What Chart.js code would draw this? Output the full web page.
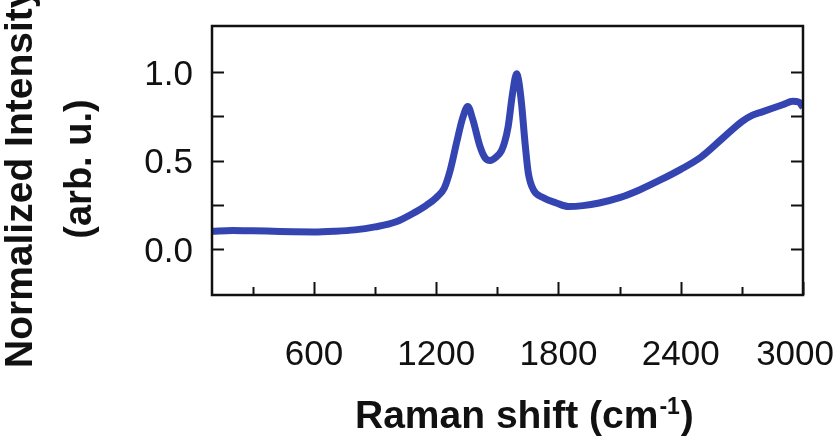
<!DOCTYPE html>
<html>
<head>
<meta charset="utf-8">
<script src="https://cdn.jsdelivr.net/npm/chart.js@4.4.1/dist/chart.umd.min.js"></script>
<style>
  html, body { margin: 0; padding: 0; background: #fff; }
  canvas { display: block; }
</style>
</head>
<body>
<canvas id="myChart" width="834" height="436"></canvas>
<script>
// Raman spectrum, values
const ramanShift = [100, 200, 300, 400, 500, 600, 700, 800, 900, 1000, 1100, 1150, 1200, 1240, 1270,
    1300, 1330, 1355, 1380, 1415, 1440, 1465, 1495, 1520, 1535, 1553, 1575, 1595, 1605, 1619, 1636,
    1652, 1677, 1726, 1790, 1850, 1920, 2000, 2100, 2200, 2300, 2400, 2500, 2600, 2700, 2750, 2800,
    2850, 2900, 2950, 2980, 3000];
const intensity = [0.10, 0.105, 0.103, 0.10, 0.097, 0.096, 0.10, 0.108, 0.125, 0.152, 0.21, 0.245, 0.29, 0.345, 0.45,
    0.60, 0.74, 0.805, 0.73, 0.58, 0.515, 0.50, 0.52, 0.555, 0.60, 0.69, 0.88, 0.99, 0.95, 0.82, 0.60,
    0.43, 0.335, 0.29, 0.26, 0.24, 0.245, 0.26, 0.29, 0.335, 0.39, 0.45, 0.52, 0.62, 0.72, 0.755, 0.775,
    0.795, 0.815, 0.835, 0.83, 0.80];

const xMajorTicks = [600, 1200, 1800, 2400, 3000];
const xMinorTicks = [300, 900, 1500, 2100, 2700];
const xTickLabels = ['600', '1200', '1800', '2400', '3000'];
const yTicks = [0, 0.25, 0.5, 0.75, 1.0];
const yLabelTicks = [0, 0.5, 1.0];
const yTickLabels = ['0.0', '0.5', '1.0'];

const tickFont = '35px "Liberation Sans", Arial, sans-serif';
const boldFont = 'bold 39px "Liberation Sans", Arial, sans-serif';
const supFont = 'bold 23px "Liberation Sans", Arial, sans-serif';

// frame, inward ticks, labels and axis titles
const framePlugin = {
    id: 'frame',
    afterDraw(chart) {
        const ctx = chart.ctx;
        const a = chart.chartArea;
        const xs = chart.scales.x;
        const ys = chart.scales.y;
        ctx.save();
        ctx.strokeStyle = '#111';
        ctx.lineWidth = 2.5;
        ctx.strokeRect(a.left, a.top, a.right - a.left, a.bottom - a.top);

        ctx.lineWidth = 2;
        ctx.beginPath();
        yTicks.forEach(v => {
            const py = Math.round(ys.getPixelForValue(v)) + 0.5;
            ctx.moveTo(a.left, py); ctx.lineTo(a.left + 12, py);
            ctx.moveTo(a.right, py); ctx.lineTo(a.right - 12, py);
        });
        xMajorTicks.forEach(v => {
            const px = Math.round(xs.getPixelForValue(v)) + 0.5;
            ctx.moveTo(px, a.bottom); ctx.lineTo(px, a.bottom - 13);
        });
        xMinorTicks.forEach(v => {
            const px = Math.round(xs.getPixelForValue(v)) + 0.5;
            ctx.moveTo(px, a.bottom); ctx.lineTo(px, a.bottom - 8);
        });
        ctx.stroke();

        // tick labels
        ctx.fillStyle = '#111';
        ctx.font = tickFont;
        ctx.textAlign = 'right';
        ctx.textBaseline = 'middle';
        yLabelTicks.forEach((v, i) => {
            ctx.fillText(yTickLabels[i], a.left - 19, ys.getPixelForValue(v) + 3);
        });
        ctx.textAlign = 'center';
        xMajorTicks.forEach((v, i) => {
            const w = ctx.measureText(xTickLabels[i]).width;
            const px = Math.min(xs.getPixelForValue(v), chart.width - w / 2);
            ctx.fillText(xTickLabels[i], px, 355);
        });

        // x title with superscript
        ctx.font = boldFont;
        ctx.textAlign = 'left';
        ctx.textBaseline = 'alphabetic';
        const part1 = 'Raman shift (cm';
        const w1 = ctx.measureText(part1).width;
        ctx.font = supFont;
        const sup = '-1';
        const ws = ctx.measureText(sup).width;
        const x0 = 355;
        ctx.font = boldFont;
        ctx.fillText(part1, x0, 428);
        ctx.font = supFont;
        ctx.fillText(sup, x0 + w1 + 1, 414);
        ctx.font = boldFont;
        ctx.fillText(')', x0 + w1 + ws + 2, 428);

        // y title, two rotated lines
        ctx.save();
        ctx.translate(32, 368);
        ctx.rotate(-Math.PI / 2);
        ctx.textAlign = 'left';
        ctx.fillText('Normalized Intensity', 0, 0);
        ctx.restore();
        ctx.save();
        ctx.translate(91, 169);
        ctx.rotate(-Math.PI / 2);
        ctx.font = 'bold 38px "Liberation Sans", Arial, sans-serif';
        ctx.textAlign = 'center';
        ctx.fillText('(arb. u.)', 0, 0);
        ctx.restore();
        ctx.restore();
    }
};

const ctx = document.getElementById('myChart').getContext('2d');
const myChart = new Chart(ctx, {
    type: 'line',
    data: {
        datasets: [{
            data: ramanShift.map((x, i) => ({ x: x, y: intensity[i] })),
            borderColor: '#3445b2',
            borderWidth: 7,
            pointRadius: 0,
            cubicInterpolationMode: 'monotone',
            fill: false
        }]
    },
    options: {
        responsive: false,
        animation: false,
        layout: {
            padding: { left: 212, right: 31, top: 26, bottom: 141 }
        },
        scales: {
            x: { type: 'linear', min: 100, max: 3000, display: false },
            y: { min: -0.26, max: 1.26, display: false }
        },
        plugins: {
            legend: { display: false },
            tooltip: { enabled: false }
        }
    },
    plugins: [framePlugin]
});
</script>
</body>
</html>
